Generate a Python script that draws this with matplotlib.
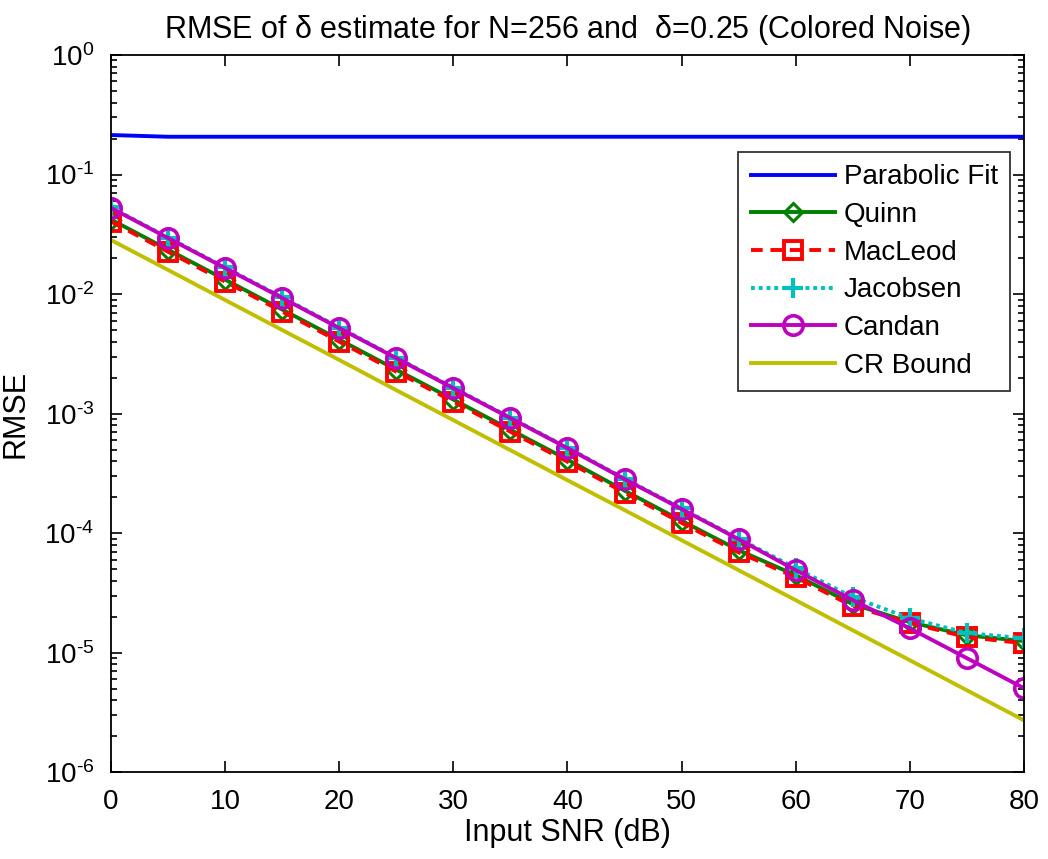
import matplotlib
matplotlib.use('Agg')
import matplotlib.pyplot as plt
from matplotlib.ticker import LogLocator, NullFormatter

plt.rcParams['font.family'] = ['Liberation Sans', 'DejaVu Sans']
plt.rcParams['mathtext.fontset'] = 'custom'
plt.rcParams['mathtext.rm'] = 'Liberation Sans'
plt.rcParams['mathtext.default'] = 'regular'

# Input SNR (dB)
snr = [0, 5, 10, 15, 20, 25, 30, 35, 40, 45, 50, 55, 60, 65, 70, 75, 80]

parabolic = [0.214, 0.207, 0.207, 0.207, 0.207, 0.207, 0.207, 0.207, 0.207,
             0.207, 0.207, 0.207, 0.207, 0.207, 0.207, 0.207, 0.207]
quinn = [0.042, 0.0235, 0.0132, 0.00742, 0.00416, 0.00233, 0.00131, 0.000733,
         0.000412, 0.000227, 0.000127, 7.2e-5, 4.45e-5, 2.55e-5, 1.8e-5,
         1.4e-5, 1.25e-5]
macleod = [0.0404, 0.0226, 0.0127, 0.00714, 0.0040, 0.00224, 0.00126, 0.000705,
           0.000396, 0.000218, 0.000122, 6.9e-5, 4.28e-5, 2.45e-5, 1.77e-5,
           1.35e-5, 1.20e-5]
jacobsen = [0.053, 0.0297, 0.0167, 0.0094, 0.00525, 0.00294, 0.00165, 0.000925,
            0.00052, 0.000286, 0.000161, 9.0e-5, 5.1e-5, 2.91e-5, 1.94e-5,
            1.46e-5, 1.32e-5]
candan = [0.0525, 0.0294, 0.0165, 0.00927, 0.00519, 0.00291, 0.00163, 0.000916,
          0.000514, 0.000283, 0.000159, 8.9e-5, 4.9e-5, 2.75e-5, 1.60e-5,
          9.0e-6, 5.05e-6]
crbound = [0.0283, 0.0159, 0.00891, 0.00500, 0.00281, 0.00157, 0.000881,
           0.000494, 0.000277, 0.000156, 8.73e-5, 4.90e-5, 2.75e-5, 1.54e-5,
           8.65e-6, 4.85e-6, 2.72e-6]

ytick_vals = [1e-6, 1e-5, 1e-4, 1e-3, 1e-2, 1e-1, 1]
ytick_labels = [r'$10^{\text{-6}}$', r'$10^{\text{-5}}$', r'$10^{\text{-4}}$',
                r'$10^{\text{-3}}$', r'$10^{\text{-2}}$', r'$10^{\text{-1}}$',
                r'$10^{0}$']

fig = plt.figure(figsize=(10.48, 8.59), dpi=100)
ax = fig.add_axes([0.106, 0.101, 0.871, 0.835])

lw = 2.8
ax.semilogy(snr, parabolic, color='#0000ff', lw=lw, label='Parabolic Fit')
ax.semilogy(snr, quinn, color='#008000', lw=lw, marker='D', ms=9,
            mfc='none', mew=2.2, label='Quinn')
ax.semilogy(snr, macleod, color='#ff0000', lw=lw, ls=(0, (3, 2)), marker='s',
            ms=13, mfc='none', mew=2.8, label='MacLeod')
ax.semilogy(snr, jacobsen, color='#00bfbf', lw=lw, ls=(0, (1, 1)), marker='+',
            ms=14, mew=3, label='Jacobsen')
ax.semilogy(snr, candan, color='#bf00bf', lw=lw, marker='o', ms=14,
            mfc='none', mew=2.6, label='Candan')
ax.semilogy(snr, crbound, color='#bfbf00', lw=lw, label='CR Bound')

ax.set_xlim(0, 80)
ax.set_ylim(1e-6, 1)
ax.set_xticks(range(0, 81, 10))
ax.set_yticks(ytick_vals)
ax.set_yticklabels(ytick_labels)
ax.yaxis.set_minor_locator(LogLocator(base=10, subs=range(2, 10), numticks=20))
ax.yaxis.set_minor_formatter(NullFormatter())

ax.tick_params(which='both', direction='in', top=True, right=True,
               width=1.2, labelsize=20)
ax.tick_params(axis='x', which='major', length=8, pad=12)
ax.tick_params(axis='y', which='major', length=8, pad=12)
ax.tick_params(which='minor', length=4)
for s in ax.spines.values():
    s.set_linewidth(1.3)

ax.set_title(r'RMSE of $\delta$ estimate for N=256 and  $\delta$=0.25 (Colored Noise)',
             fontsize=22, pad=12)
ax.set_xlabel('Input SNR (dB)', fontsize=22)
ax.set_ylabel('RMSE', fontsize=22)
ax.xaxis.set_label_coords(0.5, -0.064)
ax.yaxis.set_label_coords(-0.088, 0.5)

leg = ax.legend(loc='upper right', bbox_to_anchor=(0.985, 0.865), fontsize=20,
                handlelength=3.05, labelspacing=0.42, fancybox=False,
                borderpad=0.45, handletextpad=0.3, borderaxespad=0)
leg.get_frame().set_edgecolor('black')
leg.get_frame().set_linewidth(1.3)

fig.savefig('out.png', dpi=100)
